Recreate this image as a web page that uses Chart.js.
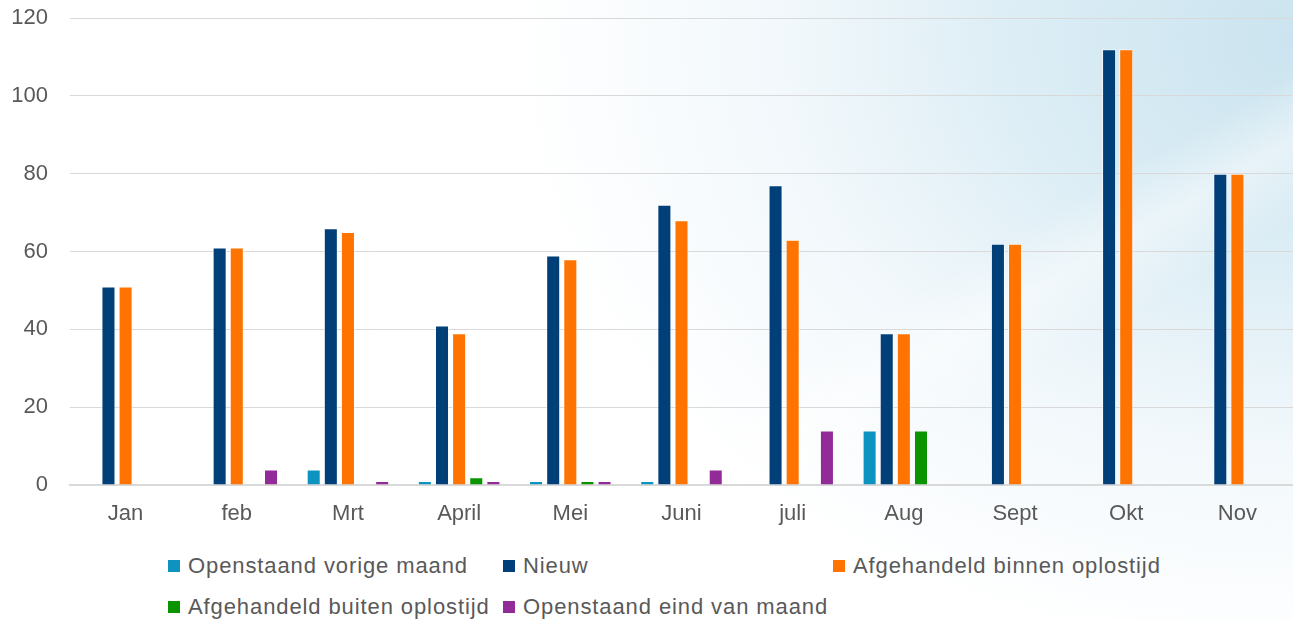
<!DOCTYPE html>
<html>
<head>
<meta charset="utf-8">
<script src="https://cdn.jsdelivr.net/npm/chart.js@4/dist/chart.umd.min.js"></script>
<style>
  html, body { margin: 0; padding: 0; }
  body {
    width: 1293px; height: 620px; overflow: hidden; position: relative;
    font-family: "Liberation Sans", Arial, sans-serif;
    background:
      linear-gradient(150deg, rgba(255,255,255,0) 60%, rgba(255,255,255,0.45) 65%, rgba(255,255,255,0) 71%),
      radial-gradient(ellipse 780px 620px at 1293px 40px, #cbe4ef 0%, #dcedf5 35%, rgba(240,247,251,0.9) 65%, rgba(255,255,255,0) 100%),
      #ffffff;
  }
  #chartWrap { position: absolute; left: 0; top: 0; width: 1293px; height: 535px; }
  #legend {
    position: absolute; left: 168px; top: 554px;
    display: grid; grid-template-columns: 335px 330px auto; row-gap: 17px;
    font-size: 22px; color: #595959; letter-spacing: 0.9px;
  }
  .item { display: flex; align-items: center; white-space: nowrap; line-height: 24px; }
  .box { width: 12px; height: 12px; margin-right: 8px; }
</style>
</head>
<body>
<div id="chartWrap"><canvas id="Chart1"></canvas></div>
<div id="legend"></div>
<script>
// data
const maanden = ['Jan', 'feb', 'Mrt', 'April', 'Mei', 'Juni', 'juli', 'Aug', 'Sept', 'Okt', 'Nov'];
const openstaandVorige = [0, 0, 4, 1, 1, 1, 0, 14, 0, 0, 0];
const nieuw = [51, 61, 66, 41, 59, 72, 77, 39, 62, 112, 80];
const afgehandeldBinnen = [51, 61, 65, 39, 58, 68, 63, 39, 62, 112, 80];
const afgehandeldBuiten = [0, 0, 0, 2, 1, 0, 0, 14, 0, 0, 0];
const openstaandEind = [0, 4, 1, 1, 1, 4, 14, 0, 0, 0, 0];
const yTicks = [0, 20, 40, 60, 80, 100, 120];

const series = [
  { label: 'Openstaand vorige maand', data: openstaandVorige, color: '#0e93c1' },
  { label: 'Nieuw', data: nieuw, color: '#003f78' },
  { label: 'Afgehandeld binnen oplostijd', data: afgehandeldBinnen, color: '#ff7300' },
  { label: 'Afgehandeld buiten oplostijd', data: afgehandeldBuiten, color: '#0a9400' },
  { label: 'Openstaand eind van maand', data: openstaandEind, color: '#922b98' }
];

const ctx = document.getElementById('Chart1').getContext('2d');
const Chart1 = new Chart(ctx, {
  type: 'bar',
  data: {
    labels: maanden,
    datasets: series.map(s => ({
      label: s.label,
      data: s.data,
      backgroundColor: s.color,
      borderColor: 'rgba(255,255,255,0.6)',
      borderWidth: 1,
      categoryPercentage: 0.77,
      barPercentage: 0.82
    }))
  },
  options: {
    responsive: true,
    maintainAspectRatio: false,
    animation: false,
    layout: { padding: 0 },
    plugins: {
      legend: { display: false },
      tooltip: { enabled: false }
    },
    scales: {
      x: {
        grid: { display: false },
        border: { color: '#d9d9d9', width: 2 },
        ticks: { color: '#595959', font: { family: 'Liberation Sans', size: 22 }, padding: 8 },
        afterFit: (scale) => { scale.height = 50; }
      },
      y: {
        min: 0, max: 120,
        afterBuildTicks: (scale) => { scale.ticks = yTicks.map(v => ({ value: v })); },
        grid: { color: '#d9d9d9', lineWidth: 1, drawTicks: false },
        border: { display: false },
        ticks: { color: '#595959', font: { family: 'Liberation Sans', size: 22 }, padding: 22 },
        afterFit: (scale) => { scale.width = 70; scale.paddingTop = 18; }
      }
    }
  }
});

// legend built from the same series
const legend = document.getElementById('legend');
series.forEach(s => {
  const item = document.createElement('div');
  item.className = 'item';
  const box = document.createElement('span');
  box.className = 'box';
  box.style.background = s.color;
  item.appendChild(box);
  item.appendChild(document.createTextNode(s.label));
  legend.appendChild(item);
});
</script>
</body>
</html>
